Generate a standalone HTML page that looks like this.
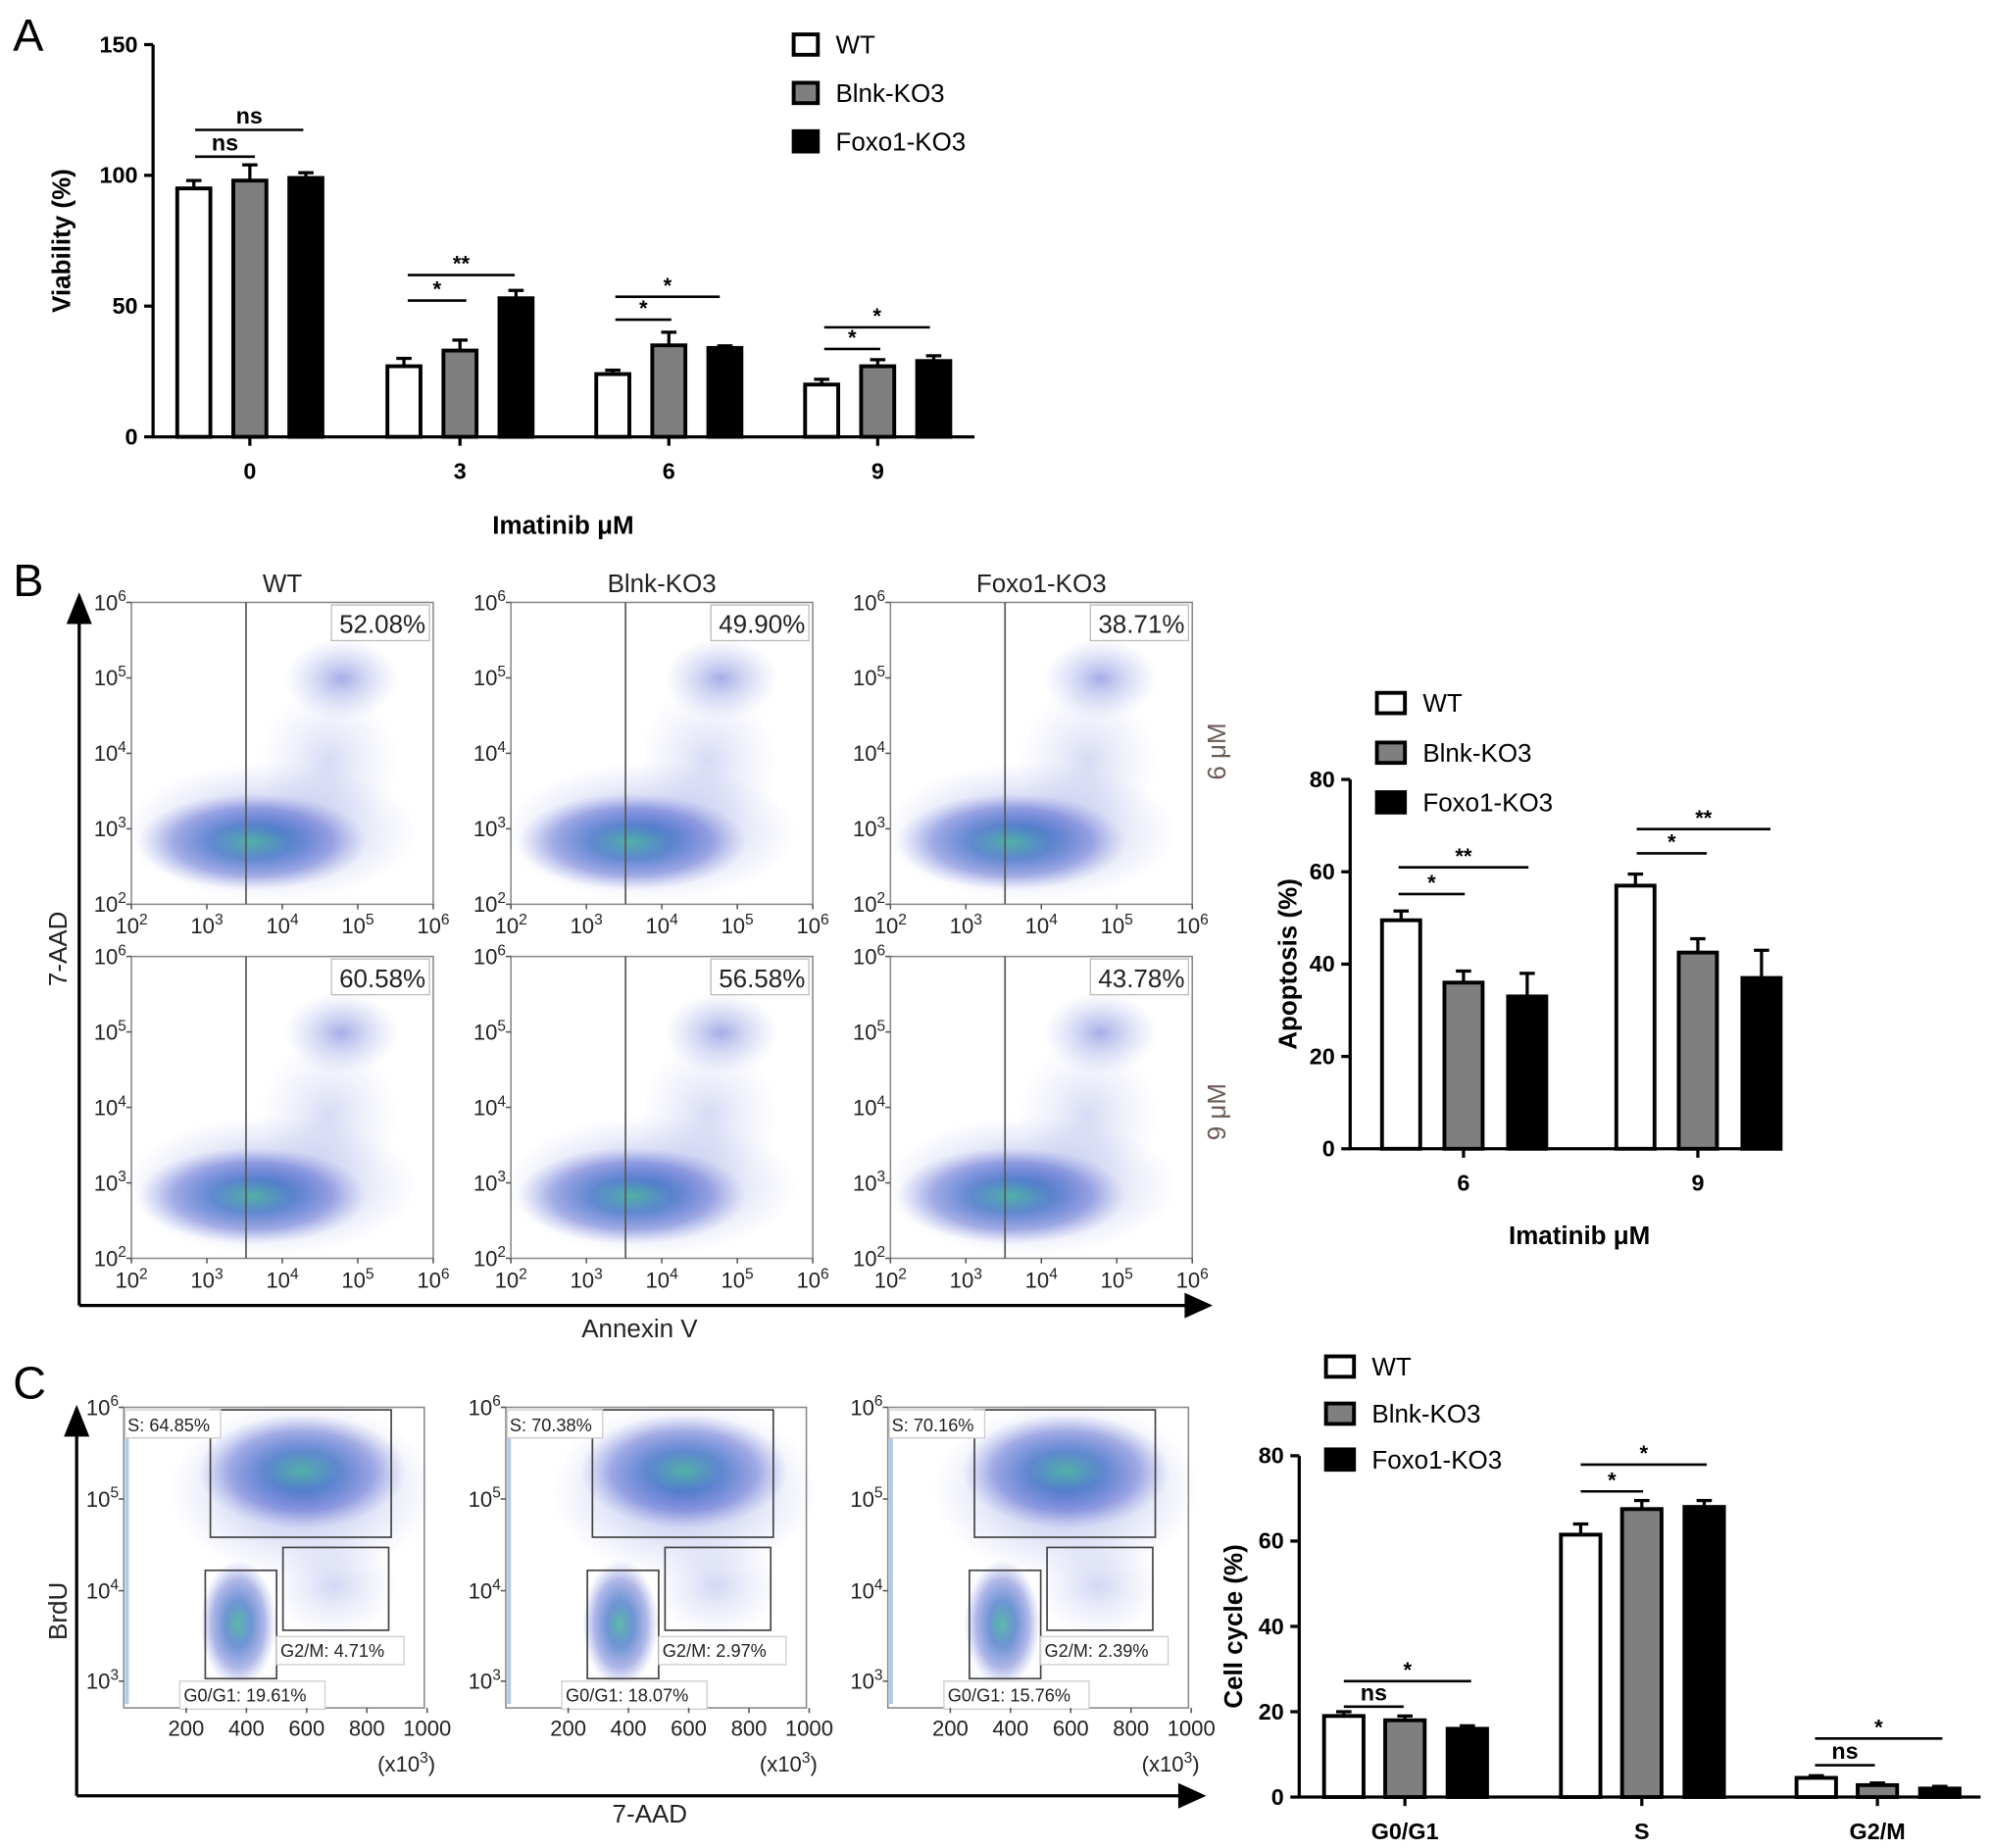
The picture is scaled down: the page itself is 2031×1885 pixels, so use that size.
<!DOCTYPE html>
<html><head><meta charset="utf-8"><style>
html,body{margin:0;padding:0;background:#fff}
svg{display:block}
text{font-family:"Liberation Sans",Arial,sans-serif}
</style></head><body>
<svg id="fig" width="2031" height="1885" viewBox="0 0 1563 1451" xmlns="http://www.w3.org/2000/svg">
<defs>
<radialGradient id="dens" cx="50%" cy="50%" r="50%">
<stop offset="0" stop-color="#3fae9a" stop-opacity="0.85"/>
<stop offset="0.35" stop-color="#2f68c0" stop-opacity="0.7"/>
<stop offset="0.7" stop-color="#3b4fc8" stop-opacity="0.4"/>
<stop offset="1" stop-color="#6a78d8" stop-opacity="0"/>
</radialGradient>
<radialGradient id="sparse" cx="50%" cy="50%" r="50%">
<stop offset="0" stop-color="#4a5cd0" stop-opacity="0.5"/>
<stop offset="1" stop-color="#8a96e0" stop-opacity="0"/>
</radialGradient>
</defs>
<g id="root"></g>
</svg>
<script>
// ---- Panel A data ----
const catsA = ["0","3","6","9"];
const wtA = [95, 27, 24, 20];
const blnkA = [98, 33, 35, 27];
const foxoA = [99, 53, 34, 29];
const wtAErr = [3, 3, 1.5, 2];
const blnkAErr = [6, 4, 5, 2.5];
const foxoAErr = [2, 3, 0.8, 2];
const ticksA = [0, 50, 100, 150];
// ---- Panel B data ----
const catsB = ["6","9"];
const wtB = [49.5, 57];
const blnkB = [36, 42.5];
const foxoB = [33, 37];
const wtBErr = [2, 2.5];
const blnkBErr = [2.5, 3];
const foxoBErr = [5, 6];
const ticksB = [0, 20, 40, 60, 80];
const apopPct = ["52.08%","49.90%","38.71%","60.58%","56.58%","43.78%"];
// ---- Panel C data ----
const catsC = ["G0/G1","S","G2/M"];
const wtC = [19, 61.5, 4.5];
const blnkC = [18, 67.5, 2.8];
const foxoC = [16, 68, 2];
const wtCErr = [1, 2.5, 0.5];
const blnkCErr = [1, 2, 0.5];
const foxoCErr = [0.7, 1.5, 0.5];
const ticksC = [0, 20, 40, 60, 80];
const sPct = ["S: 64.85%","S: 70.38%","S: 70.16%"];
const g1Pct = ["G0/G1: 19.61%","G0/G1: 18.07%","G0/G1: 15.76%"];
const g2Pct = ["G2/M: 4.71%","G2/M: 2.97%","G2/M: 2.39%"];

const NS="http://www.w3.org/2000/svg";
const root=document.getElementById('root');
function el(tag,attrs,parent,txt){const e=document.createElementNS(NS,tag);for(const k in attrs)e.setAttribute(k,attrs[k]);if(txt!==undefined)e.textContent=txt;(parent||root).appendChild(e);return e;}
function line(x1,y1,x2,y2,w,p,c){return el('line',{x1,y1,x2,y2,stroke:c||'#000','stroke-width':w||2},p);}

function barChart(o){
  const g=el('g',{});
  
  
  const y=v=>o.y0-(v/o.max)*(o.y0-o.y1);
  line(o.ax,o.y1,o.ax,o.y0+1,2.5,g);
  line(o.ax-1,o.y0,o.xEnd,o.y0,2.5,g);
  o.ticks.forEach(t=>{
    line(o.ax-7,y(t),o.ax,y(t),2.5,g);
    const tt=el('text',{x:o.ax-12,y:y(t)+6,'text-anchor':'end','font-size':18,'font-weight':'bold'},g,t);
    
    
  });
  const series=[[o.wt,o.wtE,'#fff'],[o.bl,o.blE,'#7f7f7f'],[o.fx,o.fxE,'#000']];
  o.cats.forEach((c,i)=>{
    const cx=o.cx[i];
    line(cx,o.y0,cx,o.y0+7,2.5,g);
    const lt=el('text',{x:cx,y:o.y0+33,'text-anchor':'middle','font-size':18,'font-weight':'bold'},g,c);
    
    
    series.forEach((s,j)=>{
      const bx=cx+o.off[j]-o.bw/2, v=s[0][i], e=s[1][i];
      line(bx+o.bw/2,y(v+e),bx+o.bw/2,y(v),2.5,g);
      line(bx+o.bw/2-6,y(v+e),bx+o.bw/2+6,y(v+e),2.5,g);
      const r=el('rect',{x:bx,y:y(v),width:o.bw,height:o.y0-y(v),fill:s[2],stroke:'#000','stroke-width':3},g);
      
      
    });
  });
  const yt=el('text',{transform:`translate(${o.ytx},${(o.y0+o.y1)/2}) rotate(-90)`,'text-anchor':'middle','font-size':20,'font-weight':'bold'},g,o.ytitle);
  
  
  if(o.xtitle){const xt=el('text',{x:o.xtx,y:o.xty,'text-anchor':'middle','font-size':20,'font-weight':'bold'},g,o.xtitle);
  
  }
  ['WT','Blnk-KO3','Foxo1-KO3'].forEach((n,j)=>{
    const ly=o.legY[j];
    const lg=el('g',{},g);
    
    
    el('rect',{x:o.legX,y:ly-8,width:o.legW,height:16,fill:series[j][2],stroke:'#000','stroke-width':3},lg);
    el('text',{x:o.legX+o.legW+14,y:ly+7,'font-size':20},lg,n);
  });
  o.sig.forEach(s=>{
    line(s[0],s[2],s[1],s[2],2,g);
    const st=el('text',{x:(s[0]+s[1])/2,y:s[2]-(s[3]==='ns'?5:3),'text-anchor':'middle','font-size':s[3]==='ns'?18:17,'font-weight':'bold'},g,s[3]);
    
    
  });
}

barChart({name:'viability-chart',cats:catsA,wt:wtA,bl:blnkA,fx:foxoA,wtE:wtAErr,blE:blnkAErr,fxE:foxoAErr,ticks:ticksA,max:150,
 ax:120,y0:343,y1:35,xEnd:765,cx:[196,361,525,689],off:[-44,0,44],bw:26,ytitle:'Viability (%)',ytx:55,xtitle:'Imatinib  μM',xtx:442,xty:419,
 legX:623,legW:19,legY:[35,73,111],
 sig:[[153,200,123,'ns'],[153,238,102,'ns'],[320,366,236,'*'],[320,404,216,'**'],[483,527,251,'*'],[483,565,233,'*'],[647,691,274,'*'],[647,730,257,'*']]});
barChart({name:'apoptosis-chart',cats:catsB,wt:wtB,bl:blnkB,fx:foxoB,wtE:wtBErr,blE:blnkBErr,fxE:foxoBErr,ticks:ticksB,max:80,
 ax:1060,y0:902,y1:612,xEnd:1390,cx:[1149,1333],off:[-49,0,50],bw:30,ytitle:'Apoptosis (%)',ytx:1018,xtitle:'Imatinib  μM',xtx:1240,xty:977,
 legX:1081,legW:22,legY:[552,591,630],
 sig:[[1098,1150,702,'*'],[1098,1200,681,'**'],[1285,1340,670,'*'],[1285,1390,651,'**']]});
barChart({name:'cell-cycle-chart',cats:catsC,wt:wtC,bl:blnkC,fx:foxoC,wtE:wtCErr,blE:blnkCErr,fxE:foxoCErr,ticks:ticksC,max:80,
 ax:1020,y0:1411,y1:1143,xEnd:1555,cx:[1103,1289,1474],off:[-48,0,49],bw:31,ytitle:'Cell cycle (%)',ytx:975,
 legX:1041,legW:22,legY:[1073,1110,1146],
 sig:[[1055,1102,1340,'ns'],[1055,1155,1320,'*'],[1241,1290,1171,'*'],[1241,1340,1150,'*'],[1425,1472,1386,'ns'],[1425,1525,1365,'*']]});

[['A',10,40],['B',10,468],['C',10,1098]].forEach(p=>{const t=el('text',{x:p[1],y:p[2],'font-size':36},root,p[0]);
 
 });

function sup(parent,x,y,base,exp,size){
  const t=el('text',{x,y,'text-anchor':'end','font-size':size||15,fill:'#222'},parent);
  el('tspan',{},t,base);el('tspan',{dy:-7,'font-size':(size||15)*0.7},t,exp);return t;
}

// ---- Panel B flow plots ----
const bxs=[103,401,699], bys=[473,751], W=237;
const titles=['WT','Blnk-KO3','Foxo1-KO3'];
titles.forEach((t,i)=>{const tt=el('text',{x:bxs[i]+W/2,y:465,'text-anchor':'middle','font-size':20,fill:'#222'},root,t);
 
 });
bys.forEach((by,r)=>bxs.forEach((bx,c)=>{
  const g=el('g',{});
  
  
  el('rect',{x:bx,y:by,width:W,height:W,fill:'#fff',stroke:'#888','stroke-width':1.2},g);
  el('ellipse',{cx:bx+110,cy:by+180,rx:115,ry:55,fill:'url(#sparse)'},g);
  el('ellipse',{cx:bx+95,cy:by+188,rx:90,ry:38,fill:'url(#dens)'},g);
  el('ellipse',{cx:bx+165,cy:by+60,rx:45,ry:32,fill:'url(#sparse)'},g);
  el('ellipse',{cx:bx+155,cy:by+125,rx:55,ry:60,fill:'url(#sparse)',opacity:0.45},g);
  line(bx+90,by,bx+90,by+W,1.3,g,'#555');
  el('rect',{x:bx+W-80,y:by+2,width:77,height:28,fill:'#fff',stroke:'#bbb','stroke-width':1},g);
  el('text',{x:bx+W-6,y:by+24,'text-anchor':'end','font-size':20,fill:'#222'},g,apopPct[r*3+c]);
  for(let k=0;k<5;k++){
    const yy=by+W-k*W/4;
    line(bx-4,yy,bx,yy,1.2,g,'#555');
    sup(g,bx-4,yy+6,'10',String(k+2),17);
    const xx=bx+k*W/4;
    line(xx,by+W,xx,by+W+4,1.2,g,'#555');
    const t=el('text',{x:xx,y:by+W+23,'text-anchor':'middle','font-size':17,fill:'#222'},g);
    el('tspan',{},t,'10');el('tspan',{dy:-7,'font-size':12},t,String(k+2));
  }
}));
line(62,478,62,1025,2.5);line(62,1025,935,1025,2.5);
el('polygon',{points:'52,490 62,465 72,490',fill:'#000'});
el('polygon',{points:'930,1015 952,1025 930,1035',fill:'#000'});
[['7-AAD',52,745,-90],['Annexin V',502,1050,0]].forEach(a=>{const t=el('text',{transform:`translate(${a[1]},${a[2]}) rotate(${a[3]})`,'text-anchor':'middle','font-size':20,fill:'#222'},root,a[0]);
 
 });
[['6 μM',590],['9 μM',873]].forEach(a=>{const t=el('text',{transform:`translate(962,${a[1]}) rotate(-90)`,'text-anchor':'middle','font-size':20,fill:'#6a5a55'},root,a[0]);
 
 });

// ---- Panel C flow plots ----
const cxs=[97,397,697], cy=1105, CH=236;
cxs.forEach((bx,c)=>{
  const g=el('g',{});
  
  
  el('rect',{x:bx,y:cy,width:W-1,height:CH,fill:'#fff',stroke:'#888','stroke-width':1.2},g);
  el('ellipse',{cx:bx+140,cy:cy+65,rx:105,ry:70,fill:'url(#sparse)'},g);
  el('ellipse',{cx:bx+140,cy:cy+50,rx:82,ry:45,fill:'url(#dens)'},g);
  el('ellipse',{cx:bx+90,cy:cy+170,rx:30,ry:50,fill:'url(#dens)'},g);
  el('ellipse',{cx:bx+165,cy:cy+140,rx:50,ry:40,fill:'url(#sparse)',opacity:0.5},g);
  el('rect',{x:bx+1,y:cy+5,width:3,height:CH-8,fill:'#3a7fc8',opacity:0.4},g);
  el('rect',{x:bx+68,y:cy+2,width:142,height:100,fill:'none',stroke:'#444','stroke-width':1.3},g);
  el('rect',{x:bx+64,y:cy+128,width:56,height:85,fill:'none',stroke:'#444','stroke-width':1.3},g);
  el('rect',{x:bx+125,y:cy+110,width:83,height:65,fill:'none',stroke:'#444','stroke-width':1.3},g);
  el('rect',{x:bx+1,y:cy+2,width:75,height:22,fill:'#fff',stroke:'#ccc'},g);
  el('text',{x:bx+3,y:cy+19,'font-size':14,fill:'#222','font-family':'DejaVu Sans Mono, monospace'},g,sPct[c]);
  el('rect',{x:bx+120,y:cy+180,width:100,height:22,fill:'#fff',stroke:'#ccc'},g);
  el('text',{x:bx+123,y:cy+196,'font-size':14,fill:'#222','font-family':'DejaVu Sans Mono, monospace'},g,g2Pct[c]);
  el('rect',{x:bx+44,y:cy+215,width:114,height:22,fill:'#fff',stroke:'#ccc'},g);
  el('text',{x:bx+47,y:cy+231,'font-size':14,fill:'#222','font-family':'DejaVu Sans Mono, monospace'},g,g1Pct[c]);
  [[6,0],[5,72],[4,144],[3,215]].forEach(k=>{
    line(bx-4,cy+k[1],bx,cy+k[1],1.2,g,'#555');
    sup(g,bx-4,cy+k[1]+6,'10',String(k[0]),17);
  });
  [200,400,600,800,1000].forEach((v,k)=>{
    const xx=bx+49+k*47.3;
    line(xx,cy+CH,xx,cy+CH+4,1.2,g,'#555');
    el('text',{x:xx,y:cy+CH+22,'text-anchor':'middle','font-size':17,fill:'#222'},g,String(v));
  });
  const t=el('text',{x:bx+222,y:cy+CH+50,'text-anchor':'middle','font-size':17,fill:'#222'},g);
  el('tspan',{},t,'(x10');el('tspan',{dy:-7,'font-size':12},t,'3');el('tspan',{dy:7},t,')');
});
line(60,1115,60,1410,2.5);line(60,1410,930,1410,2.5);
el('polygon',{points:'50,1128 60,1103 70,1128',fill:'#000'});
el('polygon',{points:'925,1400 947,1410 925,1420',fill:'#000'});
[['BrdU',52,1265,-90],['7-AAD',510,1431,0]].forEach(a=>{const t=el('text',{transform:`translate(${a[1]},${a[2]}) rotate(${a[3]})`,'text-anchor':'middle','font-size':20,fill:'#222'},root,a[0]);
 
 });
</script>
</body></html>
